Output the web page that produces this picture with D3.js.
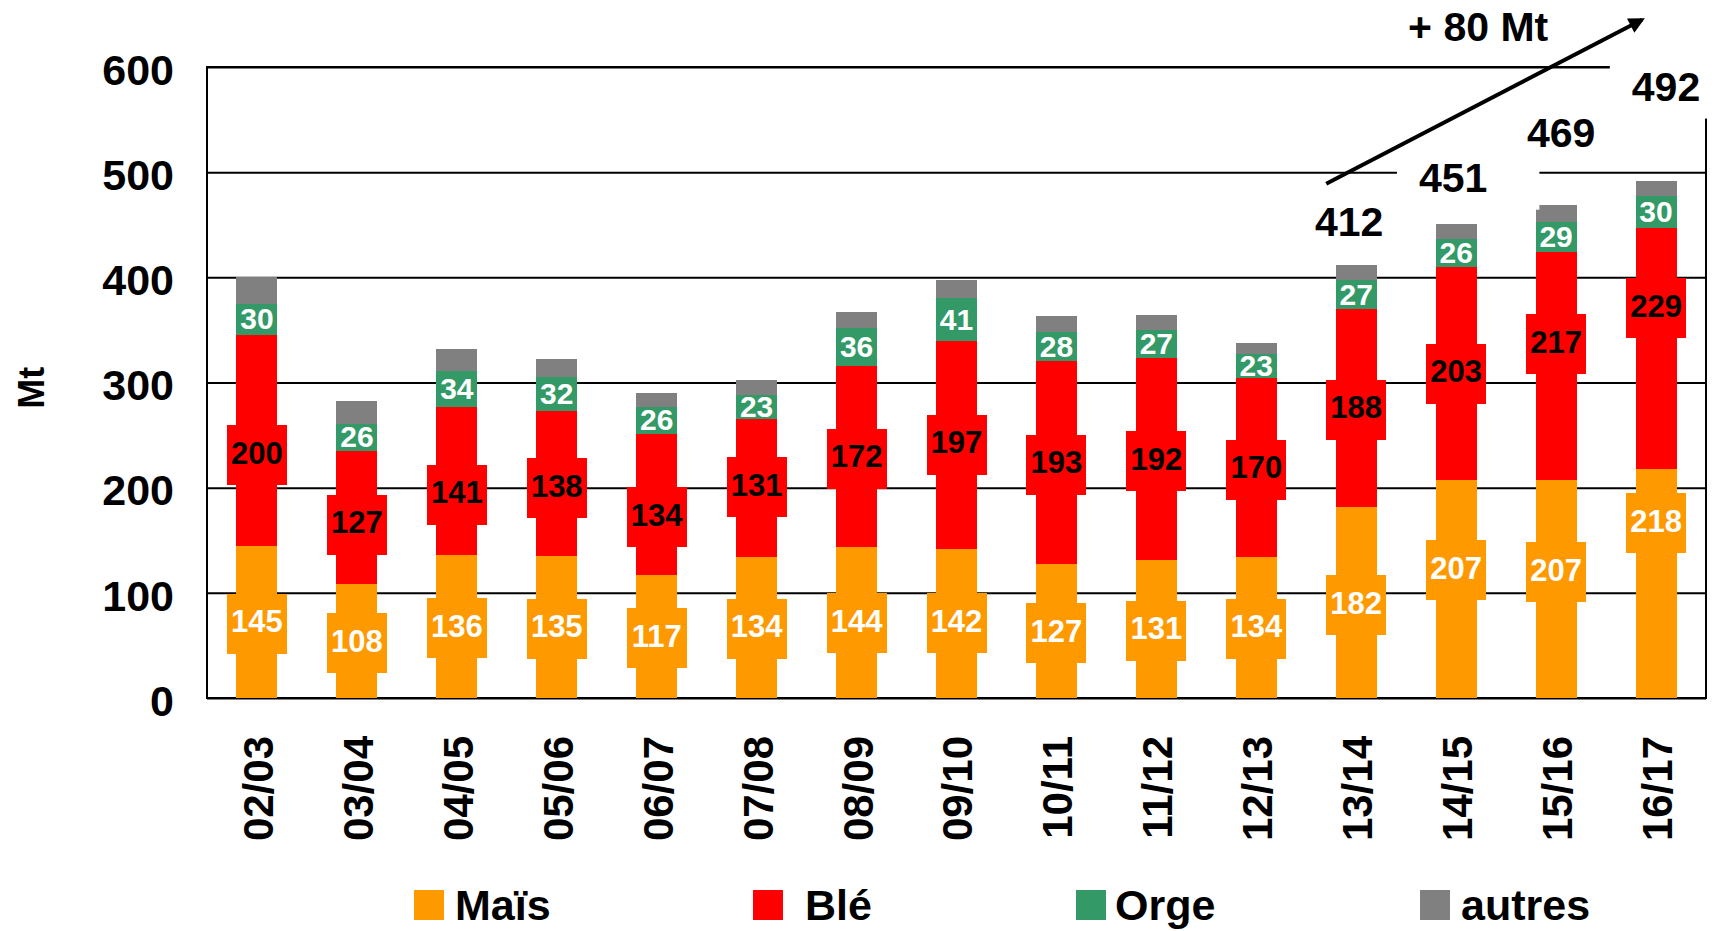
<!DOCTYPE html>
<html>
<head>
<meta charset="utf-8">
<script src="https://cdn.jsdelivr.net/npm/d3@7"></script>
<style>
  html, body { margin: 0; padding: 0; background: #fff; }
  svg { display: block; font-family: "Liberation Sans", Arial, sans-serif; font-weight: bold; }
</style>
</head>
<body>
<div id="chart"></div>
<script>
// data
const seasons = ["02/03", "03/04", "04/05", "05/06", "06/07", "07/08", "08/09", "09/10",
                 "10/11", "11/12", "12/13", "13/14", "14/15", "15/16", "16/17"];
const mais   = [145, 108, 136, 135, 117, 134, 144, 142, 127, 131, 134, 182, 207, 207, 218];
const ble    = [200, 127, 141, 138, 134, 131, 172, 197, 193, 192, 170, 188, 203, 217, 229];
const orge   = [30, 26, 34, 32, 26, 23, 36, 41, 28, 27, 23, 27, 26, 29, 30];
const autres = [25, 21, 21, 17, 13, 14, 15, 17, 15, 14, 11, 15, 15, 16, 15];
const yTicks = [0, 100, 200, 300, 400, 500, 600];

const keys = ["mais", "ble", "orge", "autres"];
const names = ["Maïs", "Blé", "Orge", "autres"];
const colors = ["#ff9900", "#ff0000", "#339966", "#808080"];

// hand placed labels in the original (pixel nudges)
const maisNudge = [2, 2, 2, 2, 2, 1, 1, 0, 2, 2, 1, 3, -19, -17, -60];
const bleNudge  = [15, 7, 14, 5, 13, -1, 3, 0, 2, 2, 2, 2, 0, -22, -40];
const totalIdx = [11, 12, 13, 14];
const totalNudge = [[-7, -29], [-3, -32], [5, -58], [10, -80]];

const width = 1717, height = 931;
const marginLeft = 207, marginRight = 11, marginTop = 67, marginBottom = 233;

const table = seasons.map((s, i) => ({season: s, mais: mais[i], ble: ble[i], orge: orge[i], autres: autres[i]}));
const totals = table.map(d => d.mais + d.ble + d.orge + d.autres);
const series = d3.stack().keys(keys)(table);

const x = d3.scaleBand()
    .domain(seasons)
    .range([marginLeft, width - marginRight])
    .paddingInner(0.59)
    .paddingOuter(0.295);

const y = d3.scaleLinear()
    .domain([0, 600])
    .range([height - marginBottom, marginTop]);

const svg = d3.select("#chart").append("svg")
    .attr("width", width)
    .attr("height", height);

svg.append("rect").attr("width", width).attr("height", height).attr("fill", "#fff");

// gridlines
svg.append("g")
    .attr("transform", `translate(${marginLeft},0)`)
    .call(d3.axisLeft(y).tickValues(yTicks).tickSize(-(width - marginLeft - marginRight)).tickFormat(""))
    .call(g => g.select(".domain").remove())
    .call(g => g.selectAll("line").attr("stroke", "#000").attr("stroke-width", 2));

// plot border
svg.append("rect")
    .attr("x", marginLeft).attr("y", marginTop)
    .attr("width", width - marginLeft - marginRight)
    .attr("height", height - marginTop - marginBottom)
    .attr("fill", "none").attr("stroke", "#000").attr("stroke-width", 2);

// stacked bars
svg.append("g")
  .selectAll("g")
  .data(series)
  .join("g")
    .attr("fill", (d, i) => colors[i])
  .selectAll("rect")
  .data(d => d)
  .join("rect")
    .attr("x", d => x(d.data.season))
    .attr("width", x.bandwidth())
    .attr("y", d => y(d[1]))
    .attr("height", d => y(d[0]) - y(d[1]))
    .attr("shape-rendering", "crispEdges");

// value labels with boxes for Maïs and Blé
const boxW = 60, boxH = 60;
[[0, maisNudge, "#fff"], [1, bleNudge, "#000"]].forEach(([k, nudge, tc]) => {
  const g = svg.append("g");
  series[k].forEach((d, i) => {
    const cx = x(d.data.season) + x.bandwidth() / 2;
    const cy = y((d[0] + d[1]) / 2) + nudge[i];
    g.append("rect")
        .attr("x", cx - boxW / 2).attr("y", cy - boxH / 2)
        .attr("width", boxW).attr("height", boxH)
        .attr("fill", colors[k])
        .attr("shape-rendering", "crispEdges");
    g.append("text")
        .attr("x", cx).attr("y", cy)
        .attr("dy", "0.27em")
        .attr("text-anchor", "middle")
        .attr("font-size", 31)
        .attr("fill", tc)
        .text(d[1] - d[0]);
  });
});

// Orge labels
svg.append("g")
  .selectAll("text")
  .data(series[2])
  .join("text")
    .attr("x", d => x(d.data.season) + x.bandwidth() / 2)
    .attr("y", d => y((d[0] + d[1]) / 2))
    .attr("dy", "0.33em")
    .attr("text-anchor", "middle")
    .attr("font-size", 30)
    .attr("fill", "#fff")
    .text(d => d[1] - d[0]);

// y axis labels
svg.append("g")
    .attr("transform", `translate(${marginLeft},0)`)
    .call(d3.axisLeft(y).tickValues(yTicks).tickSize(0).tickPadding(33))
    .call(g => g.select(".domain").remove())
    .call(g => g.selectAll("text")
        .attr("font-size", 43)
        .attr("font-family", "Liberation Sans, Arial, sans-serif")
        .attr("font-weight", "bold")
        .attr("fill", "#000")
        .attr("dy", "0.4em"));

svg.append("text")
    .attr("transform", `translate(31,${y(295)}) rotate(-90)`)
    .attr("text-anchor", "middle")
    .attr("dy", "0.36em")
    .attr("font-size", 36)
    .text("Mt");

// x axis labels
svg.append("g")
    .attr("transform", `translate(0,${height - marginBottom})`)
    .call(d3.axisBottom(x).tickSize(0))
    .call(g => g.select(".domain").remove())
    .call(g => g.selectAll("text")
        .attr("font-size", 42)
        .attr("font-family", "Liberation Sans, Arial, sans-serif")
        .attr("font-weight", "bold")
        .attr("fill", "#000")
        .attr("y", 0)
        .attr("x", -38)
        .attr("dy", "0.38em")
        .attr("text-anchor", "end")
        .attr("transform", "rotate(-90)"));

// total labels on white boxes
const tg = svg.append("g");
totalIdx.forEach((idx, j) => {
  const tx = x(seasons[idx]) + x.bandwidth() / 2 + totalNudge[j][0];
  const ty = y(totals[idx]) + totalNudge[j][1];
  const t = tg.append("text")
      .attr("x", tx).attr("y", ty)
      .attr("text-anchor", "middle")
      .attr("font-size", 41)
      .text(totals[idx]);
  const b = t.node().getBBox();
  tg.insert("rect", "text")
      .attr("x", b.x - 22).attr("y", ty - 48)
      .attr("width", b.width + 74).attr("height", 66)
      .attr("fill", "#fff");
});

// growth arrow
const first = totalIdx[0], last = totalIdx[totalIdx.length - 1];
svg.append("defs").append("marker")
    .attr("id", "head")
    .attr("viewBox", "0 0 10 10")
    .attr("refX", 8).attr("refY", 5)
    .attr("markerWidth", 5).attr("markerHeight", 4)
    .attr("markerUnits", "strokeWidth")
    .attr("orient", "auto")
  .append("path")
    .attr("d", "M0,0 L10,5 L0,10 Z")
    .attr("fill", "#000");

const ax0 = x(seasons[first]) + x.bandwidth() / 2 - 30, ay0 = y(totals[first] + 77);
const ax1 = x(seasons[last]) + x.bandwidth() / 2 - 14, ay1 = y(totals[last] + 153);
svg.append("line")
    .attr("x1", ax0).attr("y1", ay0)
    .attr("x2", ax1).attr("y2", ay1)
    .attr("stroke", "#000").attr("stroke-width", 4)
    .attr("marker-end", "url(#head)");

svg.append("text")
    .attr("x", (ax0 + ax1) / 2 - 6)
    .attr("y", ay1 + 21)
    .attr("text-anchor", "middle")
    .attr("font-size", 41)
    .text(`+ ${totals[last] - totals[first]} Mt`);

// legend
const legendX = [414, 753, 1076, 1420];
const legendGap = [11, 22, 9, 11];
const lg = svg.append("g");
names.forEach((n, i) => {
  lg.append("rect")
      .attr("x", legendX[i]).attr("y", 890)
      .attr("width", 30).attr("height", 30)
      .attr("fill", colors[i]);
  lg.append("text")
      .attr("x", legendX[i] + 30 + legendGap[i])
      .attr("y", 920)
      .attr("font-size", 43)
      .text(n);
});
</script>
</body>
</html>
